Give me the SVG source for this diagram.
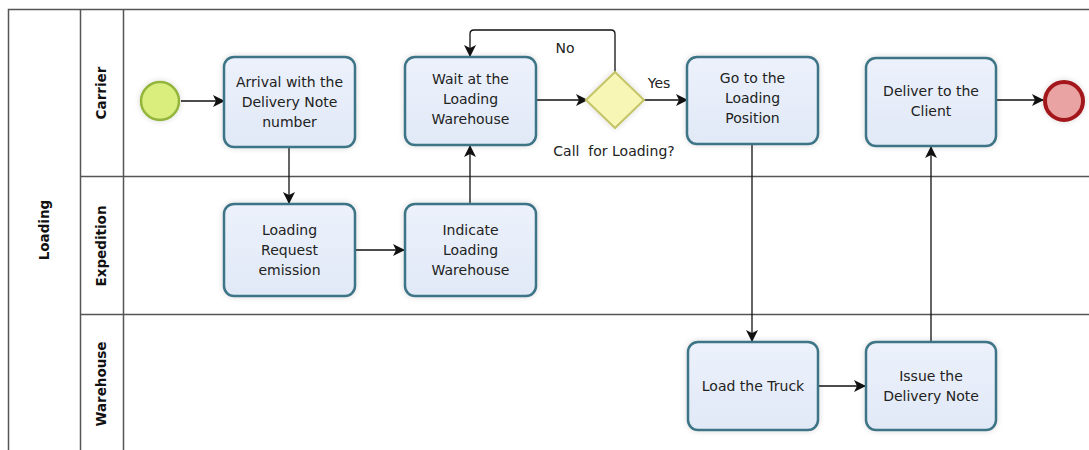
<svg xmlns="http://www.w3.org/2000/svg" width="1089" height="450" viewBox="0 0 1089 450">
<style>
.pool{fill:none;stroke:#555;stroke-width:1.5}
.task{fill:url(#tg);stroke:#3c7486;stroke-width:2.5}
.t{font-family:"DejaVu Sans",sans-serif;font-size:14px;fill:#222;text-anchor:middle}
.lab{font-family:"DejaVu Sans",sans-serif;font-size:13.5px;font-weight:bold;fill:#111;text-anchor:middle}
.c{fill:none;stroke:#111;stroke-width:1.3}
</style>
<defs>
<linearGradient id="tg" x1="0" y1="0" x2="0" y2="1">
<stop offset="0" stop-color="#ecf1fb"/><stop offset="1" stop-color="#e1e9f7"/>
</linearGradient>
<marker id="ah" markerWidth="12" markerHeight="12" refX="11" refY="6" orient="auto" markerUnits="userSpaceOnUse">
<path d="M0,0 L12,6 L0,12 L3,6 z" fill="#111"/>
</marker>
<filter id="sh" x="-20%" y="-20%" width="140%" height="140%">
<feGaussianBlur in="SourceAlpha" stdDeviation="3"/><feOffset dx="0" dy="0"/>
<feComponentTransfer><feFuncA type="linear" slope="0.15"/></feComponentTransfer>
<feMerge><feMergeNode/><feMergeNode in="SourceGraphic"/></feMerge>
</filter>
</defs>
<rect width="1089" height="450" fill="#fff"/>
<g id="pool">
<path class="pool" d="M1089,9.5 H8.5 V450"/>
<line class="pool" x1="80.5" y1="9.5" x2="80.5" y2="450"/>
<line class="pool" x1="123.5" y1="9.5" x2="123.5" y2="450"/>
<line class="pool" x1="80.5" y1="176.5" x2="1089" y2="176.5"/>
<line class="pool" x1="80.5" y1="314.5" x2="1089" y2="314.5"/>
<text class="lab" transform="translate(49,230) rotate(-90)">Loading</text>
<text class="lab" transform="translate(106,93) rotate(-90)">Carrier</text>
<text class="lab" transform="translate(106,246) rotate(-90)">Expedition</text>
<text class="lab" transform="translate(106,384) rotate(-90)">Warehouse</text>
</g>
<g id="connectors">
<line class="c" x1="181" y1="101" x2="224" y2="101" marker-end="url(#ah)"/>
<line class="c" x1="289" y1="147" x2="289" y2="203" marker-end="url(#ah)"/>
<line class="c" x1="355" y1="250" x2="404" y2="250" marker-end="url(#ah)"/>
<line class="c" x1="470" y1="204" x2="470" y2="146" marker-end="url(#ah)"/>
<line class="c" x1="536" y1="100" x2="587" y2="100" marker-end="url(#ah)"/>
<path class="c" d="M615,72 V34 Q615,30 611,30 H474 Q470,30 470,34 V56" marker-end="url(#ah)"/>
<line class="c" x1="644" y1="100" x2="687" y2="100" marker-end="url(#ah)"/>
<line class="c" x1="752" y1="144" x2="752" y2="341" marker-end="url(#ah)"/>
<line class="c" x1="818" y1="386" x2="865" y2="386" marker-end="url(#ah)"/>
<line class="c" x1="931" y1="342" x2="931" y2="147" marker-end="url(#ah)"/>
<line class="c" x1="996" y1="100" x2="1043" y2="100" marker-end="url(#ah)"/>
<text class="t" x="565" y="53">No</text>
<text class="t" x="659" y="88">Yes</text>
<text class="t" x="614" y="156" xml:space="preserve" style="white-space:pre">Call  for Loading?</text>
</g>
<g id="start"><circle cx="160" cy="101" r="19" fill="#d9ee7c" stroke="#93b53c" stroke-width="2.5" filter="url(#sh)"/></g>
<g id="arrival">
<rect class="task" x="224" y="57" width="131" height="90" rx="10" filter="url(#sh)"/>
<text class="t" x="289.5" y="87">Arrival with the</text>
<text class="t" x="289.5" y="107">Delivery Note</text>
<text class="t" x="289.5" y="127">number</text>
</g>
<g id="wait">
<rect class="task" x="405" y="57" width="131" height="88" rx="10" filter="url(#sh)"/>
<text class="t" x="470.5" y="84">Wait at the</text>
<text class="t" x="470.5" y="104">Loading</text>
<text class="t" x="470.5" y="124">Warehouse</text>
</g>
<g id="gateway"><polygon points="615,72 644,100 615,128 586,100" fill="#f8f6b4" stroke="#c4c469" stroke-width="2" filter="url(#sh)"/></g>
<g id="goto">
<rect class="task" x="687" y="57" width="131" height="87" rx="10" filter="url(#sh)"/>
<text class="t" x="752.5" y="83">Go to the</text>
<text class="t" x="752.5" y="103">Loading</text>
<text class="t" x="752.5" y="123">Position</text>
</g>
<g id="deliver">
<rect class="task" x="866" y="58" width="130" height="88" rx="10" filter="url(#sh)"/>
<text class="t" x="931" y="96">Deliver to the</text>
<text class="t" x="931" y="116">Client</text>
</g>
<g id="end"><circle cx="1064" cy="101" r="19" fill="#e9a3a3" stroke="#a3181c" stroke-width="4" filter="url(#sh)"/></g>
<g id="request">
<rect class="task" x="224" y="204" width="131" height="92" rx="10" filter="url(#sh)"/>
<text class="t" x="289.5" y="235">Loading</text>
<text class="t" x="289.5" y="255">Request</text>
<text class="t" x="289.5" y="275">emission</text>
</g>
<g id="indicate">
<rect class="task" x="405" y="204" width="131" height="92" rx="10" filter="url(#sh)"/>
<text class="t" x="470.5" y="235">Indicate</text>
<text class="t" x="470.5" y="255">Loading</text>
<text class="t" x="470.5" y="275">Warehouse</text>
</g>
<g id="load">
<rect class="task" x="688" y="342" width="130" height="88" rx="10" filter="url(#sh)"/>
<text class="t" x="753" y="391">Load the Truck</text>
</g>
<g id="issue">
<rect class="task" x="866" y="342" width="130" height="88" rx="10" filter="url(#sh)"/>
<text class="t" x="931" y="381">Issue the</text>
<text class="t" x="931" y="401">Delivery Note</text>
</g>
</svg>
